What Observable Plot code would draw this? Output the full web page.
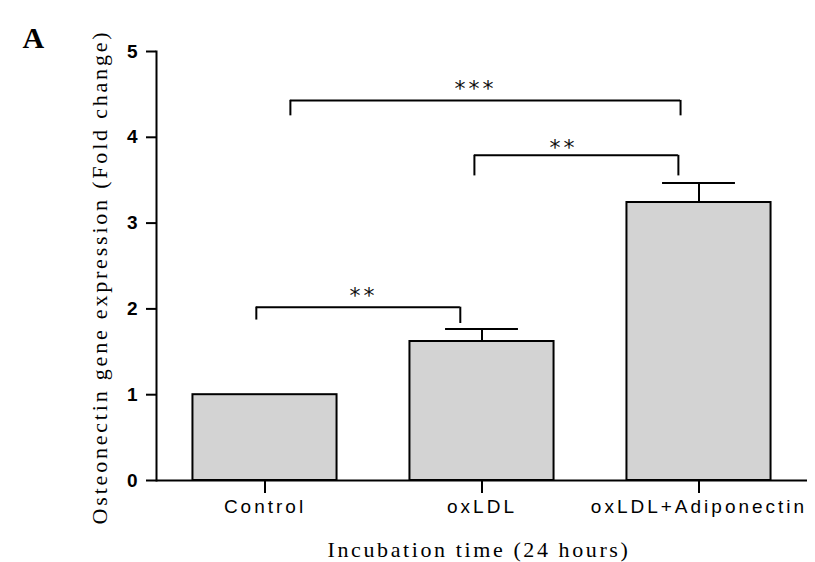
<!DOCTYPE html>
<html><head><meta charset="utf-8">
<script src="https://cdn.jsdelivr.net/npm/d3@7"></script>
<script src="https://cdn.jsdelivr.net/npm/@observablehq/plot@0.6"></script>
<style>
body{margin:0;background:#fff}
#chart svg{display:block}
g[aria-label="x-axis tick label"]{letter-spacing:3px}
</style></head><body><div id="chart"></div>
<script>
const categories = ["Control", "oxLDL", "oxLDL+Adiponectin"];
const values = [1.0, 1.62, 3.24];
const errors = [0, 0.145, 0.226];
const yTicks = [0, 1, 2, 3, 4, 5];
const bracketX1 = [-0.04, 0.965, 0.117];
const bracketX2 = [0.90, 1.905, 1.915];
const bracketTop = [2.02, 3.79, 4.43];
const bracketLeftEnd = [1.87, 3.55, 4.25];
const bracketRightEnd = [1.83, 3.55, 4.25];
const bracketLabels = ["**", "**", "***"];
const labelX = [0.454, 1.376, 0.970];
const labelY = [2.21, 3.93, 4.62];
const yTitle = "Osteonectin gene expression (Fold change)";
const xTitle = "Incubation time (24 hours)";
const panel = "A";

const barHalf = 0.332, capHalf = 0.168;
const bars = categories.map((c, i) => ({i, c, v: values[i], e: errors[i]}));
const errs = bars.filter(d => d.e > 0);
const brackets = bracketLabels.map((t, i) => ({
  x1: bracketX1[i], x2: bracketX2[i], top: bracketTop[i],
  l: bracketLeftEnd[i], r: bracketRightEnd[i], t, lx: labelX[i], ly: labelY[i]
}));

const chart = Plot.plot({
  width: 815, height: 562,
  marginLeft: 156, marginRight: 8, marginTop: 51, marginBottom: 82,
  x: {domain: [-0.5, 2.5], axis: null},
  y: {domain: [0, 5], axis: null},
  marks: [
    Plot.rectY(bars, {x1: d => d.i - barHalf, x2: d => d.i + barHalf, y1: 0, y2: "v",
      fill: "#d3d3d3", stroke: "black", strokeWidth: 2}),
    Plot.ruleX(errs, {x: "i", y1: "v", y2: d => d.v + d.e, stroke: "black", strokeWidth: 2}),
    Plot.ruleY(errs, {x1: d => d.i - capHalf, x2: d => d.i + capHalf, y: d => d.v + d.e, stroke: "black", strokeWidth: 2}),
    Plot.ruleY(brackets, {x1: "x1", x2: "x2", y: "top", stroke: "black", strokeWidth: 2}),
    Plot.ruleX(brackets, {x: "x1", y1: "l", y2: "top", stroke: "black", strokeWidth: 2}),
    Plot.ruleX(brackets, {x: "x2", y1: "r", y2: "top", stroke: "black", strokeWidth: 2}),
    Plot.text(brackets, {x: "lx", y: "ly", text: "t", fontSize: 22, fontFamily: "DejaVu Sans",
      lineAnchor: "middle", dy: 5, fill: "#111"}),
    Plot.frame({anchor: "left", strokeWidth: 2}),
    Plot.ruleY([0], {strokeWidth: 2}),
    Plot.axisY({ticks: yTicks, tickFormat: d => String(d), tickSize: 10, tickPadding: 9, strokeWidth: 2,
      fontSize: 19, fontWeight: "bold", fontFamily: "Liberation Sans", label: null}),
    Plot.axisX({ticks: [0, 1, 2], tickFormat: i => categories[i], tickSize: 13, tickPadding: 6,
      strokeWidth: 2, fontSize: 19, fontFamily: "Liberation Sans", label: null}),
    Plot.text([yTitle], {frameAnchor: "left", dx: -57, dy: 11, rotate: -90, text: d => d,
      textAnchor: "middle", fontSize: 22, fontFamily: "Liberation Serif", lineAnchor: "middle"}),
    Plot.text([xTitle], {frameAnchor: "bottom", dx: -3, dy: 69, text: d => d, textAnchor: "middle",
      fontSize: 22, fontFamily: "Liberation Serif", lineAnchor: "middle"}),
    Plot.text([panel], {frameAnchor: "top-left", dx: -134, dy: -13, text: d => d, textAnchor: "start",
      fontSize: 30, fontWeight: "bold", fontFamily: "Liberation Serif", lineAnchor: "middle"})
  ]
});
const sel = d3.select(chart).selectAll("text");
sel.filter(function() { return this.textContent === yTitle; }).attr("letter-spacing", 2.8);
sel.filter(function() { return this.textContent === xTitle; }).attr("letter-spacing", 2.6);
sel.filter(function() { return bracketLabels.includes(this.textContent); }).attr("letter-spacing", 3);
document.getElementById("chart").appendChild(chart);
</script></body></html>
